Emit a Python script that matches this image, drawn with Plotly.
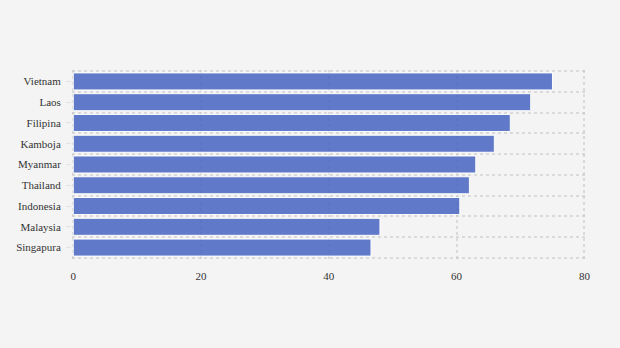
import plotly.graph_objects as go

countries = ["Vietnam", "Laos", "Filipina", "Kamboja", "Myanmar",
             "Thailand", "Indonesia", "Malaysia", "Singapura"]
values = [75.0, 71.6, 68.4, 65.9, 63.0, 62.0, 60.5, 48.0, 46.6]
x_ticks = [0, 20, 40, 60, 80]

positions = list(range(len(countries)))

fig = go.Figure(
    go.Bar(
        x=values,
        y=positions,
        orientation="h",
        marker=dict(color="rgb(72,101,193)", line=dict(color="white", width=1)),
        opacity=0.86,
        width=0.82,
        hoverinfo="x+y",
    )
)

grid = "rgba(200,200,200,0.6)"
font = dict(family="Liberation Serif", size=11, color="#333333")

fig.update_layout(
    width=620,
    height=348,
    margin=dict(l=72, r=34, t=70, b=89),
    paper_bgcolor="#f4f4f4",
    plot_bgcolor="#f4f4f4",
    showlegend=False,
    font=font,
    xaxis=dict(
        range=[-0.2, 80.25],
        tickvals=x_ticks,
        tickfont=font,
        showgrid=True,
        gridcolor=grid,
        griddash="dot",
        gridwidth=1.5,
        zeroline=False,
        showline=False,
        ticks="",
        ticklabelstandoff=9,
        fixedrange=True,
    ),
    yaxis=dict(
        range=[len(countries) - 0.45, -0.55],
        tickvals=positions,
        ticktext=countries,
        tickfont=font,
        showgrid=False,
        zeroline=False,
        showline=False,
        ticks="outside",
        ticklen=5,
        tickcolor="#e2e2e2",
        ticklabelstandoff=3,
        minor=dict(
            tick0=0.5,
            dtick=1,
            showgrid=True,
            gridcolor=grid,
            griddash="dot",
            gridwidth=1.5,
            ticks="",
        ),
        fixedrange=True,
    ),
)

fig.write_html("out.html")
